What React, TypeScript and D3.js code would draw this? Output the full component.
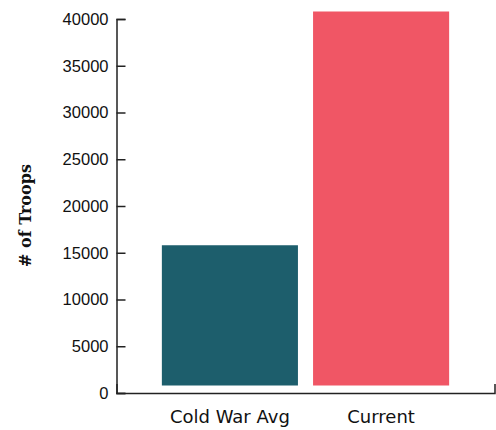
import React, { useEffect, useRef } from "react";
import * as d3 from "d3";

const categories = ["Cold War Avg", "Current"];
const troops = [15000, 40000];
const barColors = ["#1d5e6c", "#f05665"];
const yTicks = [0, 5000, 10000, 15000, 20000, 25000, 30000, 35000, 40000];
const yLabel = "# of Troops";

const W = 496;
const H = 430;
const left = 116.5;
const right = 494.5;
const top = 19;
const bottom = 393;
const barLift = 7.5;

export default function App() {
  const ref = useRef<SVGSVGElement>(null);

  useEffect(() => {
    const svg = d3.select(ref.current);
    svg.selectAll("*").remove();

    const x = d3.scaleBand<string>().domain(categories).range([left, right]).paddingInner(0.1).paddingOuter(0.3);
    const y = d3.scaleLinear().domain([0, 40000]).range([bottom, top]);

    svg
      .append("g")
      .selectAll("rect")
      .data(categories)
      .join("rect")
      .attr("x", (d) => x(d)!)
      .attr("width", x.bandwidth())
      .attr("y", (d, i) => y(troops[i]) - barLift)
      .attr("height", (d, i) => y(0) - y(troops[i]))
      .attr("fill", (d, i) => barColors[i]);

    const yAxis = svg
      .append("g")
      .attr("transform", `translate(${left},0)`)
      .call(
        d3
          .axisLeft(y)
          .tickValues(yTicks)
          .tickFormat(d3.format("d"))
          .tickSizeInner(-9)
          .tickSizeOuter(-9)
          .tickPadding(8)
      );
    yAxis.attr("font-family", "'Liberation Sans', Arial, sans-serif").attr("font-size", 16.5);
    yAxis.selectAll("text").attr("fill", "#111");
    yAxis.selectAll("path,line").attr("stroke", "#222").attr("stroke-width", 1.5);

    const xAxis = svg
      .append("g")
      .attr("transform", `translate(0,${bottom})`)
      .call(d3.axisBottom(x).tickSizeInner(0).tickSizeOuter(-9).tickPadding(17));
    xAxis.attr("font-family", "'DejaVu Sans', sans-serif").attr("font-size", 18);
    xAxis.selectAll("text").attr("fill", "#111");
    xAxis.selectAll("path,line").attr("stroke", "#222").attr("stroke-width", 1.5);

    svg
      .append("text")
      .attr("transform", `translate(31,${(163 + 268) / 2}) rotate(-90)`)
      .attr("text-anchor", "middle")
      .attr("font-family", "'DejaVu Serif', serif")
      .attr("font-weight", "bold")
      .attr("font-size", 16)
      .attr("fill", "#111")
      .text(yLabel);
  }, []);

  return (
    <svg
      ref={ref}
      width={W}
      height={H}
      style={{ position: "absolute", left: 0, top: 0, display: "block", background: "#fff" }}
    />
  );
}
